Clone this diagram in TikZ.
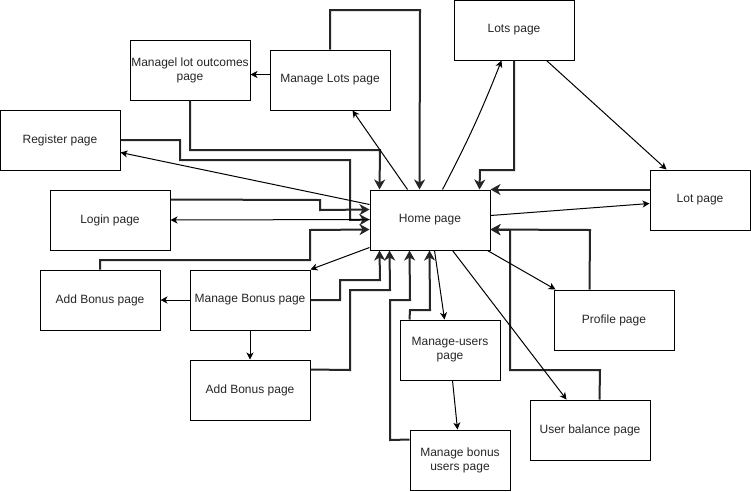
\documentclass[tikz,border=0pt]{standalone}
\usepackage{fontspec}
\setmainfont{Liberation Sans}
\usetikzlibrary{arrows.meta,calc}
\begin{document}
\begin{tikzpicture}[x=1pt,y=-1pt,
  pg/.style={draw=black,line width=1pt,fill=white,minimum width=120pt,minimum height=60pt,inner sep=1pt,align=center,text=black!85,font=\fontsize{12}{14}\selectfont},
  pgn/.style={pg,minimum width=100pt},
  thk/.style={line width=2pt,draw=black!85,line join=miter,-{Stealth[length=10pt,width=11pt,inset=3pt]}},
  thn/.style={line width=1pt,draw=black,-{Stealth[length=7pt,width=7pt,inset=2pt]}}]
\useasboundingbox (0,0) rectangle (751,491);
% pages
\node[pg] (home)  at (430,220) {Home page};
\node[pg] (mlo)   at (190,70)  {Managel lot outcomes\\page};
\node[pg] (mlots) at (330,80)  {Manage Lots page};
\node[pg] (reg)   at (60,140)  {Register page};
\node[pg] (login) at (110,220) {Login page};
\node[pg] (abl)   at (100,300) {Add Bonus page};
\node[pg] (mb)    at (250,300) {Manage Bonus page};
\node[pg] (abb)   at (250,390) {Add Bonus page};
\node[pgn] (mu)   at (450,350) {Manage-users\\page};
\node[pgn] (mbu)  at (460,460) {Manage bonus\\users page};
\node[pg] (lots)  at (514,30)  {Lots page};
\node[pgn] (lot)  at (700,200) {Lot page};
\node[pg] (prof)  at (614,320) {Profile page};
\node[pg] (ub)    at (590,430) {User balance page};
% thick return connectors
\draw[thk] (mlots.north) |- (420,10) -- ($(home.north west)+(50,0)$);
\draw[thk] (mlo.south) |- (380,150) -- ($(home.north west)+(10,0)$);
\draw[thk] (reg.east) -- (180,140) -- (180,160) -- (350,160) -- (350,220) -- ($(home.north west)+(0,30)$);
\draw[thk] ($(login.north east)+(0,10)$) -- (320,200) -- (320,210) -- ($(home.north west)+(0,20)$);
\draw[thk] (abl.north) -- (100,260) -- (310,260) -- (310,230) -- ($(home.north west)+(0,40)$);
\draw[thk] (mb.east) -- (340,300) -- (340,280) -- (380,280) -- ($(home.south west)+(10,0)$);
\draw[thk] ($(abb.north east)+(0,10)$) -- (350,370) -- (350,290) -- (390,290) -- ($(home.south west)+(20,0)$);
\draw[thk] ($(mbu.north west)+(0,10)$) -- (390,440) -- (390,300) -- (410,300) -- ($(home.south west)+(40,0)$);
\draw[thk] ($(mu.north west)+(10,0)$) -- (410,310) -- (430,310) -- ($(home.south west)+(60,0)$);
\draw[thk] (lots.south) -- (514,170) -- (480,170) -- ($(home.north west)+(110,0)$);
\draw[thk] ($(lot.north west)+(0,20)$) -- (home.north east);
\draw[thk] ($(prof.north west)+(36,0)$) -- (590,230) -- ($(home.north east)+(0,40)$);
\draw[thk] ($(ub.north west)+(70,0)$) -- (600,370) -- (510,370) -- (510,230) -- ($(home.north east)+(0,40)$);
% thin navigation connectors
\draw[thn] ($(home.north west)+(38,0)$) -- ($(mlots.south west)+(83,0)$);
\draw[thn] ($(home.north west)+(0,15)$) -- ($(reg.north east)+(0,43)$);
\draw[thn] ($(home.north west)+(0,30)$) -- (login.east);
\draw[thn] ($(home.south west)+(0,-3)$) -- (mb.north east);
\draw[thn] (mb.west) -- (abl.east);
\draw[thn] (mb.south) -- (abb.north);
\draw[thn] ($(home.south west)+(65,0)$) -- ($(mu.north west)+(45,0)$);
\draw[thn] ($(mu.south west)+(53,0)$) -- ($(mbu.north west)+(48,0)$);
\draw[thn] ($(home.south west)+(83,0)$) -- ($(ub.north west)+(37,0)$);
\draw[thn] ($(home.south east)+(-3,0)$) -- ($(prof.north west)+(2,0)$);
\draw[thn] ($(home.north east)+(0,26)$) -- ($(lot.north west)+(0,34)$);
\draw[thn] ($(home.north west)+(73,0)$) to[bend right=3] ($(lots.south west)+(48,0)$);
\draw[thn] ($(lots.south west)+(93,0)$) -- ($(lot.north west)+(17,0)$);
\draw[thn] ($(mlots.north west)+(0,25)$) -- ($(mlo.north east)+(0,35)$);
\end{tikzpicture}
\end{document}
